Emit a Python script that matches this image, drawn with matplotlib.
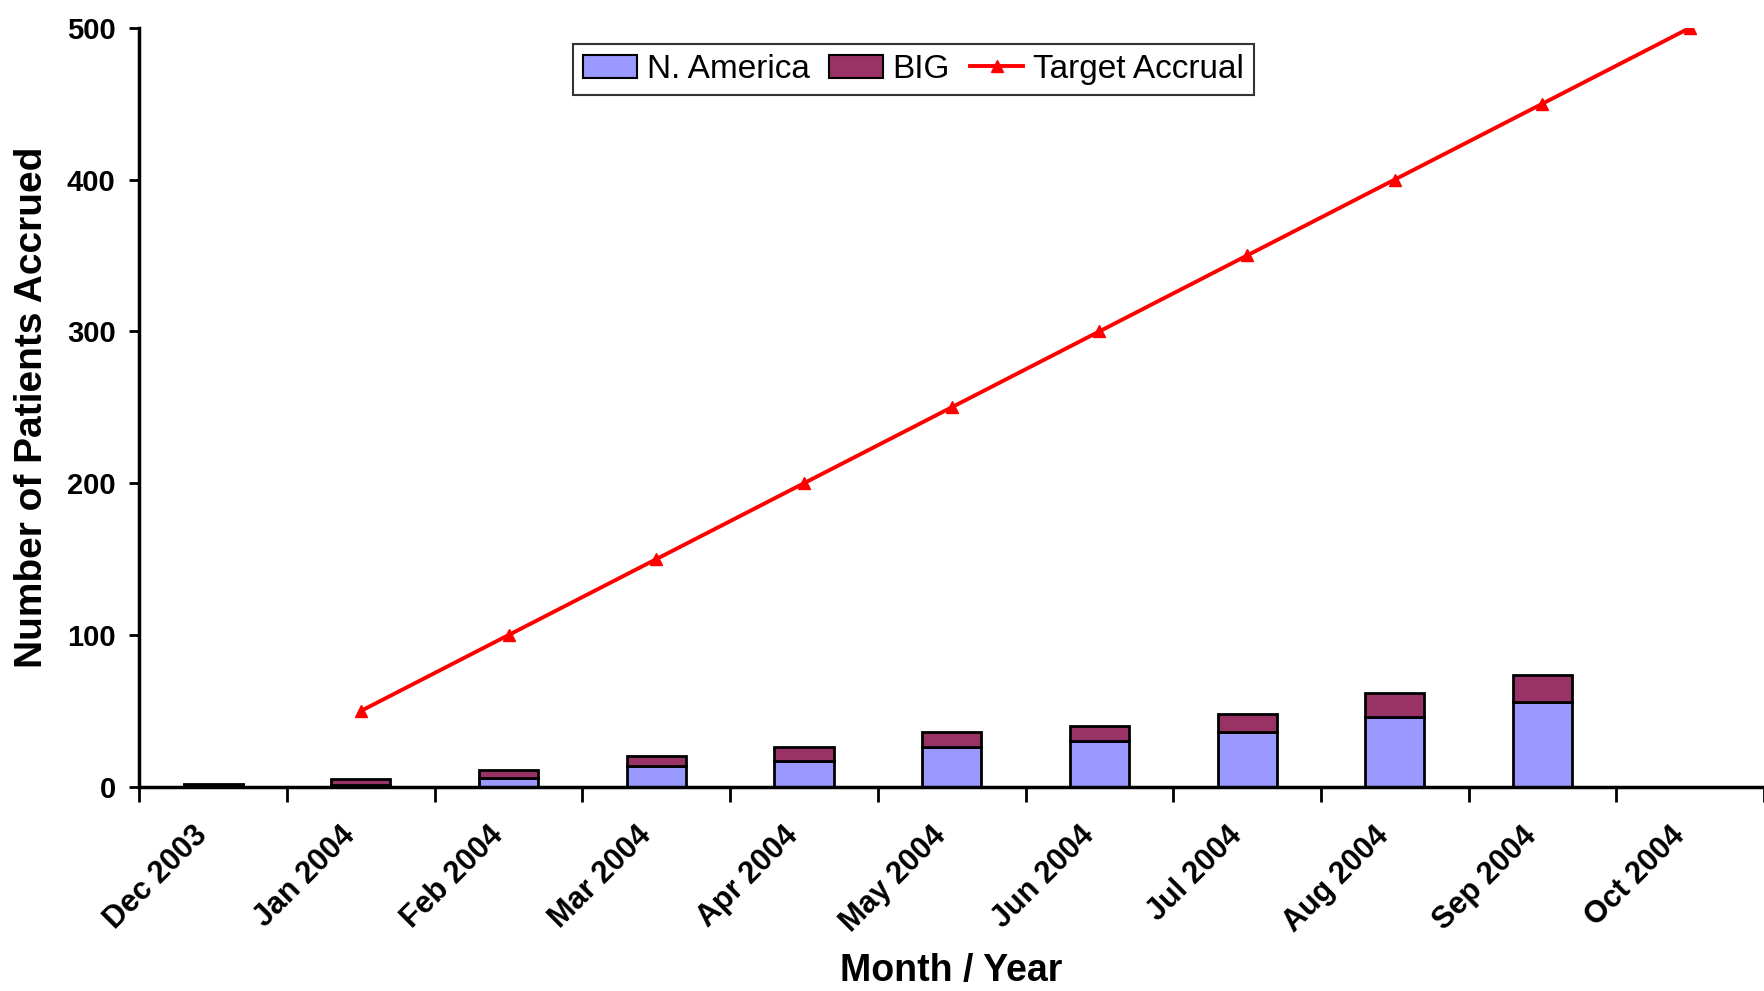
import numpy as np
import matplotlib
matplotlib.use("Agg")
import matplotlib.pyplot as plt
import matplotlib.transforms as mtransforms
from matplotlib.patches import Patch
from matplotlib.lines import Line2D

plt.rcParams['font.family'] = ['Liberation Sans', 'DejaVu Sans']

# data
months = ["Dec 2003", "Jan 2004", "Feb 2004", "Mar 2004", "Apr 2004", "May 2004",
          "Jun 2004", "Jul 2004", "Aug 2004", "Sep 2004", "Oct 2004"]
n_america = [1, 1, 6, 14, 17, 26, 30, 36, 46, 56, 0]
big = [1, 4, 5, 6, 9, 10, 10, 12, 16, 18, 0]
target_months = months[1:]
target = [50, 100, 150, 200, 250, 300, 350, 400, 450, 500]

fig = plt.figure(figsize=(17.64, 9.91), dpi=100)
ax = fig.add_axes([0.079, 0.206, 0.921, 0.766])

x = np.arange(len(months))
ax.bar(x, n_america, width=0.4, color="#9999FF", edgecolor="black", linewidth=2)
ax.bar(x, big, width=0.4, bottom=n_america, color="#993366", edgecolor="black", linewidth=2)

xt = [months.index(m) for m in target_months]
ax.plot(xt, target, color="#FF0000", linewidth=2.8, marker="^", markersize=9)

ax.set_xlim(-0.5, len(months) - 0.5)
ax.set_ylim(0, 500)
ax.set_yticks(range(0, 501, 100))

ax.set_xticks(x)
ax.set_xticklabels(months, rotation=45, ha="right", va="center", rotation_mode="anchor")
ax.set_xticks(np.arange(-0.5, len(months), 1), minor=True)
ax.tick_params(axis="x", which="major", length=0, pad=32)
ax.tick_params(axis="x", which="minor", length=11, width=2, direction="out")
ax.tick_params(axis="y", length=7, width=2, direction="out", pad=10)
shift = mtransforms.ScaledTranslation(-10 / 100, 0, fig.dpi_scale_trans)
for lab in ax.get_xticklabels():
    lab.set_fontsize(22)
    lab.set_fontweight("bold")
    lab.set_transform(lab.get_transform() + shift)
for lab in ax.get_yticklabels():
    lab.set_fontsize(21)
    lab.set_fontweight("bold")

for s in ["top", "right"]:
    ax.spines[s].set_visible(False)
for s in ["left", "bottom"]:
    ax.spines[s].set_linewidth(2.5)

ax.set_ylabel("Number of Patients Accrued", fontsize=28, fontweight="bold", labelpad=12)
ax.set_xlabel("Month / Year", fontsize=27, fontweight="bold", va="center")
ax.xaxis.set_label_coords(0.5, -0.243)

handles = [Patch(facecolor="#9999FF", edgecolor="black", linewidth=1.5),
           Patch(facecolor="#993366", edgecolor="black", linewidth=1.5),
           Line2D([], [], color="#FF0000", linewidth=2.8, marker="^", markersize=9)]
leg = fig.legend(handles, ["N. America", "BIG", "Target Accrual"], loc="center",
                 bbox_to_anchor=(0.518, 0.930), ncol=3, fontsize=24, frameon=True,
                 fancybox=False, edgecolor="black", handlelength=1.6, handletextpad=0.3,
                 columnspacing=0.6, borderpad=0.3)
leg.get_frame().set_linewidth(1.5)

fig.savefig("out.png", dpi=100)
